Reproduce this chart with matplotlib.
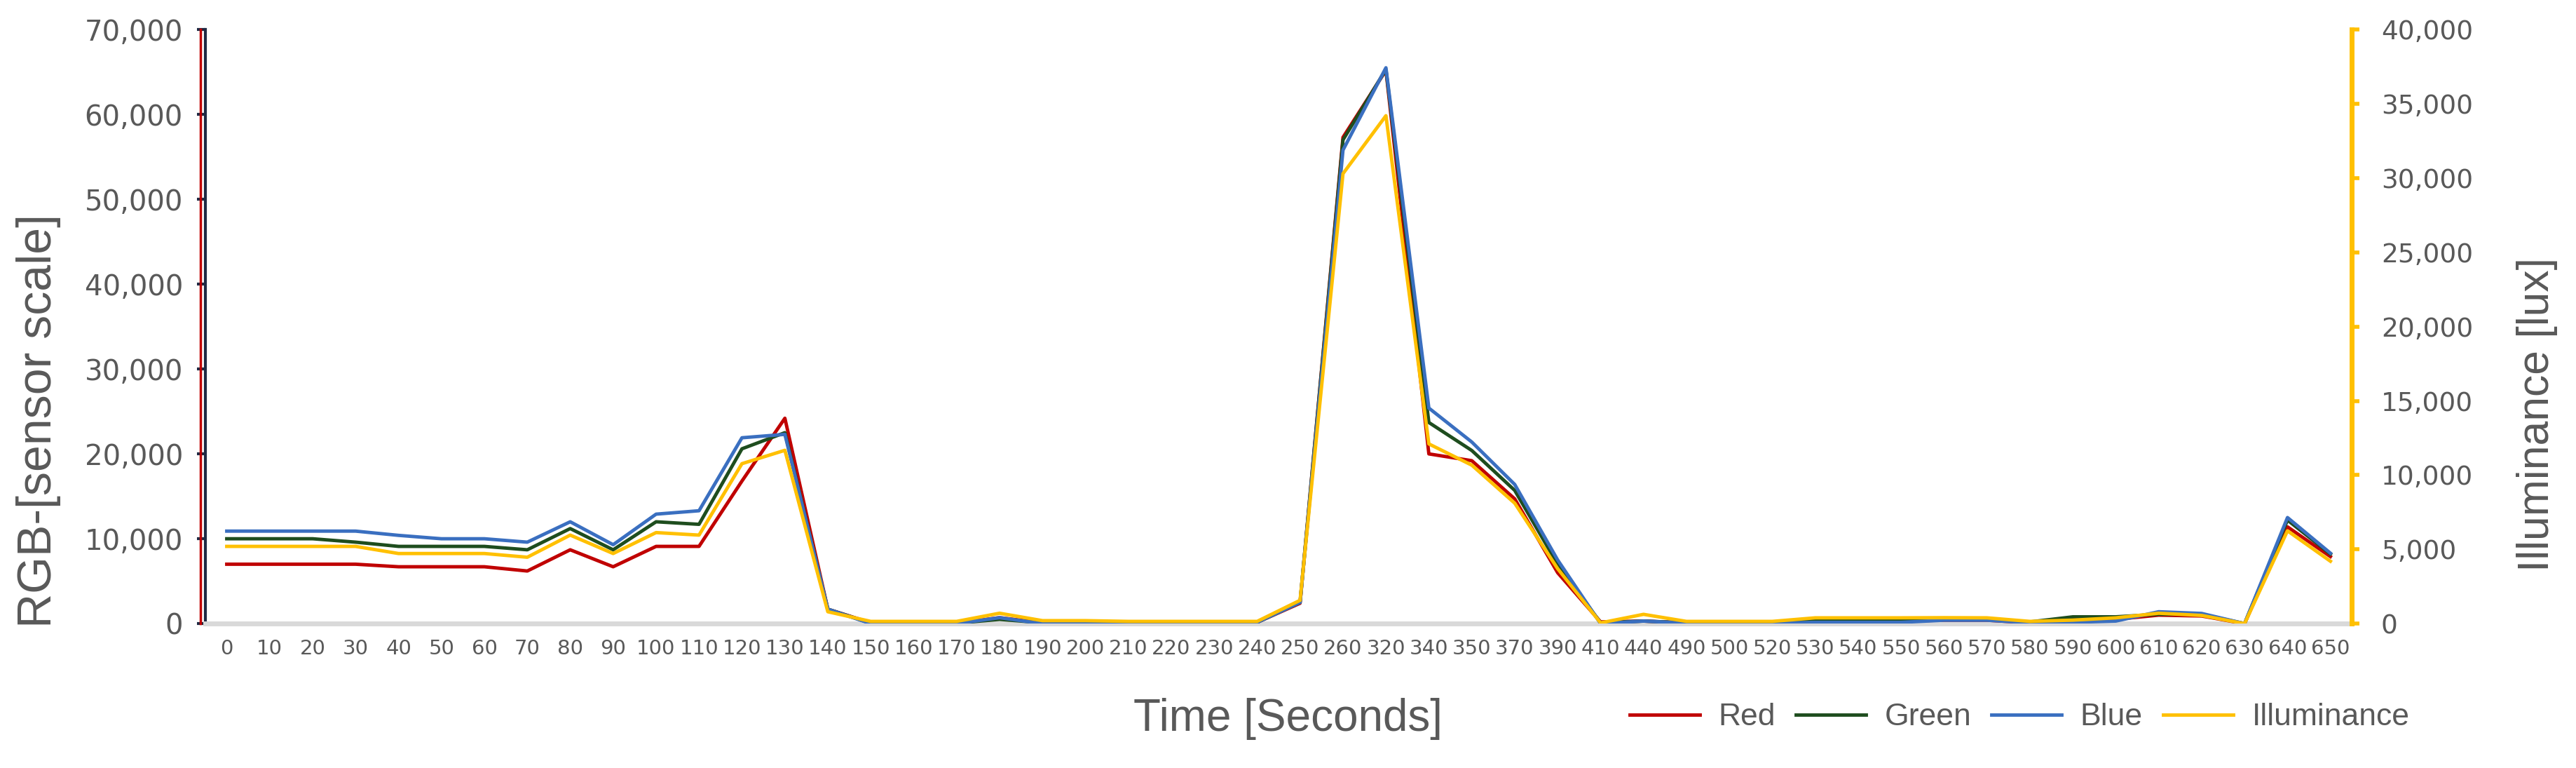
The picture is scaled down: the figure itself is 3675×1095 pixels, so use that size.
import matplotlib.pyplot as plt
from matplotlib.ticker import FuncFormatter
from matplotlib.lines import Line2D
import numpy as np

# x categories (seconds), not evenly spaced -> plotted as categories
times = [str(t) for t in range(0, 270, 10)] + \
        ['320', '340', '350', '370', '390', '410', '440', '490', '500', '520'] + \
        [str(t) for t in range(530, 660, 10)]

red = [7000, 7000, 7000, 7000, 6700, 6700, 6700, 6200, 8700, 6700,
       9100, 9100, 16800, 24200, 1700, 100, 50, 50, 700, 100,
       100, 100, 100, 100, 150, 2400, 57300, 65200, 20000, 19200,
       14700, 6000, 200, 300, 100, 100, 100, 300, 300, 300,
       400, 400, 100, 500, 500, 1000, 900, 0, 11400, 7900]

green = [10000, 10000, 10000, 9600, 9100, 9100, 9100, 8700, 11200, 8700,
         12000, 11700, 20600, 22500, 1700, 50, 50, 50, 500, 100,
         150, 100, 100, 100, 150, 2500, 57000, 65300, 23700, 20400,
         15700, 7000, 100, 300, 100, 100, 100, 400, 400, 400,
         500, 500, 200, 800, 800, 1100, 1100, 0, 12200, 8200]

blue = [10900, 10900, 10900, 10900, 10400, 10000, 10000, 9600, 12000, 9300,
        12900, 13300, 21900, 22300, 1700, 0, 0, 0, 700, 0,
        100, 50, 50, 100, 150, 2500, 55800, 65500, 25400, 21400,
        16400, 7500, 0, 300, 50, 50, 50, 150, 150, 150,
        400, 400, 100, 150, 300, 1400, 1200, 0, 12500, 8300]

lux = [5200, 5200, 5200, 5200, 4720, 4720, 4720, 4470, 5960, 4720,
       6130, 5960, 10770, 11670, 800, 150, 150, 150, 700, 200,
       200, 150, 150, 150, 150, 1570, 30300, 34200, 12100, 10670,
       8110, 3700, 50, 625, 150, 150, 150, 390, 390, 390,
       400, 390, 150, 235, 390, 700, 550, 0, 6250, 4200]

c_red = '#C00000'
c_green = '#1E4D1E'
c_blue = '#3A6FC0'
c_yel = '#FFC000'
c_txt = '#595959'
lab_font = ['Liberation Sans', 'DejaVu Sans']

fig = plt.figure(figsize=(36.75, 10.95), dpi=100)
ax = fig.add_axes([0.0797, 0.188, 0.8333, 0.7735])
ax2 = ax.twinx()

x = np.arange(len(times))
lw = 3.5
ax.plot(x, red, color=c_red, lw=lw, zorder=3)
ax.plot(x, green, color=c_green, lw=lw, zorder=3)
ax.plot(x, blue, color=c_blue, lw=lw, zorder=3)
ax2.plot(x, lux, color=c_yel, lw=lw, zorder=3)

ax.set_xlim(-0.5, len(times) - 0.5)
ax.set_ylim(0, 70000)
ax2.set_ylim(0, 40000)
ax.set_yticks(np.arange(0, 70001, 10000))
ax2.set_yticks(np.arange(0, 40001, 5000))
fmt = FuncFormatter(lambda v, p: '{:,.0f}'.format(v))
ax.yaxis.set_major_formatter(fmt)
ax2.yaxis.set_major_formatter(fmt)

ax.set_xticks(x)
ax.set_xticklabels(times, fontsize=21, color=c_txt, family='DejaVu Sans')
ax.tick_params(axis='x', length=0, pad=16)
ax.tick_params(axis='y', labelsize=29, colors=c_txt, length=9, width=3,
               color='#1F2A44', pad=14)
ax2.tick_params(axis='y', labelsize=27, colors=c_txt, length=8, width=4,
                color=c_yel, pad=22)

for s in ['top', 'right']:
    ax.spines[s].set_visible(False)
for s in ['top', 'left', 'bottom']:
    ax2.spines[s].set_visible(False)
ax.spines['bottom'].set_color('#D9D9D9')
ax.spines['bottom'].set_linewidth(5)
ax.spines['left'].set_color('#1F2A44')
ax.spines['left'].set_linewidth(3)
ax2.spines['right'].set_color(c_yel)
ax2.spines['right'].set_linewidth(5)
# red line running beside the left axis, as in the original
ax.plot([-0.62, -0.62], [0, 70000], color=c_red, lw=2.5, clip_on=False, zorder=4)

fig.text(0.015, 0.452, 'RGB-[sensor scale]', rotation=90, ha='center', va='center',
         fontsize=49, color=c_txt, family=lab_font)
fig.text(0.985, 0.46, 'Illuminance [lux]', rotation=90, ha='center', va='center',
         fontsize=45, color=c_txt, family=lab_font)
fig.text(0.5, 0.064, 'Time [Seconds]', ha='center', va='center',
         fontsize=46, color=c_txt, family=lab_font)

handles = [Line2D([], [], color=c_red, lw=lw), Line2D([], [], color=c_green, lw=lw),
           Line2D([], [], color=c_blue, lw=lw), Line2D([], [], color=c_yel, lw=lw)]
leg = fig.legend(handles, ['Red', 'Green', 'Blue', 'Illuminance'], ncol=4,
                 loc='center', bbox_to_anchor=(0.784, 0.066), frameon=False,
                 prop={'family': lab_font, 'size': 32},
                 handlelength=2.25, columnspacing=0.65, handletextpad=0.6)
for t in leg.get_texts():
    t.set_color(c_txt)

fig.savefig('out.png', dpi=100)
